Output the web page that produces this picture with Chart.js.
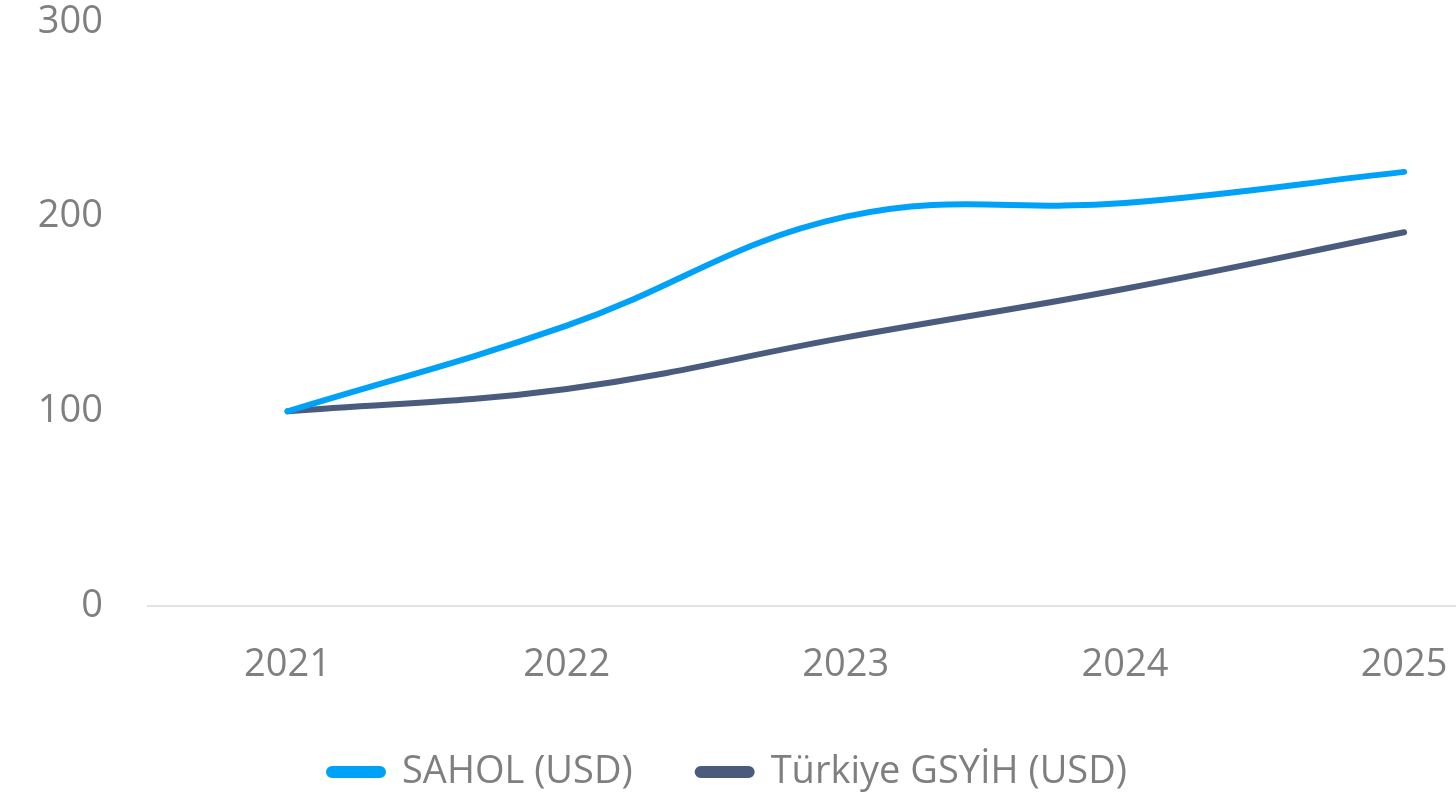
<!DOCTYPE html>
<html>
<head>
<meta charset="utf-8">
<script src="https://cdn.jsdelivr.net/npm/chart.js@4"></script>
<style>
  html, body { margin: 0; padding: 0; background: #fff; overflow: hidden; }
  #wrap { width: 1456px; height: 801px; position: relative; }
</style>
</head>
<body>
<div id="wrap"><canvas id="chart"></canvas></div>
<script>
// veriler
const years = [2021, 2022, 2023, 2024, 2025];
const saholValues = [100, 144, 200, 207, 223];
const gsyihValues = [100, 111.5, 138, 163, 192];
const yTicks = [0, 100, 200, 300];

const FONT = "'Open Sans', sans-serif";
const TEXT_COLOR = '#7f7f7f';

const toPoints = (vals) => years.map((y, i) => ({ x: y, y: vals[i] }));

// lejant yüksekliğini sabitle
const legendHeightPlugin = {
    id: 'legendHeight',
    afterInit(chart) {
        const lg = chart.legend;
        if (!lg) return;
        const origFit = lg.fit.bind(lg);
        lg.fit = function () {
            origFit();
            this.height = 113;
        };
    }
};

const ctx = document.getElementById('chart').getContext('2d');
new Chart(ctx, {
    type: 'line',
    data: {
        datasets: [
            {
                label: 'SAHOL (USD)',
                data: toPoints(saholValues),
                borderColor: '#00a2f7',
                backgroundColor: '#00a2f7',
                borderWidth: 6,
                borderCapStyle: 'round',
                pointRadius: 0,
                tension: 0.4
            },
            {
                label: 'Türkiye GSYİH (USD)',
                data: toPoints(gsyihValues),
                borderColor: '#4b5b7e',
                backgroundColor: '#4b5b7e',
                borderWidth: 6,
                borderCapStyle: 'round',
                pointRadius: 0,
                tension: 0.4
            }
        ]
    },
    options: {
        responsive: true,
        maintainAspectRatio: false,
        animation: false,
        layout: { padding: 0 },
        scales: {
            x: {
                type: 'linear',
                min: 2020.5,
                max: 2025.186,
                grid: { display: false, drawTicks: false },
                border: { display: true, color: '#e3e3e3', width: 2 },
                afterFit: (scale) => {
                    scale.height = 82;
                    scale.paddingLeft = 0;
                    scale.paddingRight = 0;
                    scale.paddingTop = 0;
                    scale.paddingBottom = 0;
                },
                ticks: {
                    stepSize: 1,
                    includeBounds: false,
                    padding: 36,
                    color: TEXT_COLOR,
                    font: { family: FONT, size: 38 },
                    callback: (v) => String(v)
                }
            },
            y: {
                min: 0,
                max: 300,
                grid: { display: false, drawTicks: false },
                border: { display: false },
                afterFit: (scale) => {
                    scale.width = 148;
                    scale.paddingTop = 22;
                    scale.paddingBottom = 0;
                    scale.paddingLeft = 0;
                    scale.paddingRight = 0;
                },
                afterBuildTicks: (scale) => { scale.ticks = yTicks.map(v => ({ value: v })); },
                ticks: {
                    padding: 45,
                    color: TEXT_COLOR,
                    font: { family: FONT, size: 38 }
                }
            }
        },
        plugins: {
            legend: {
                position: 'bottom',
                labels: {
                    boxWidth: 54,
                    boxHeight: 6,
                    useBorderRadius: true,
                    borderRadius: 3,
                    padding: 65,
                    color: TEXT_COLOR,
                    font: { family: FONT, size: 38 }
                }
            },
            tooltip: { enabled: false }
        }
    },
    plugins: [legendHeightPlugin]
});
</script>
</body>
</html>
